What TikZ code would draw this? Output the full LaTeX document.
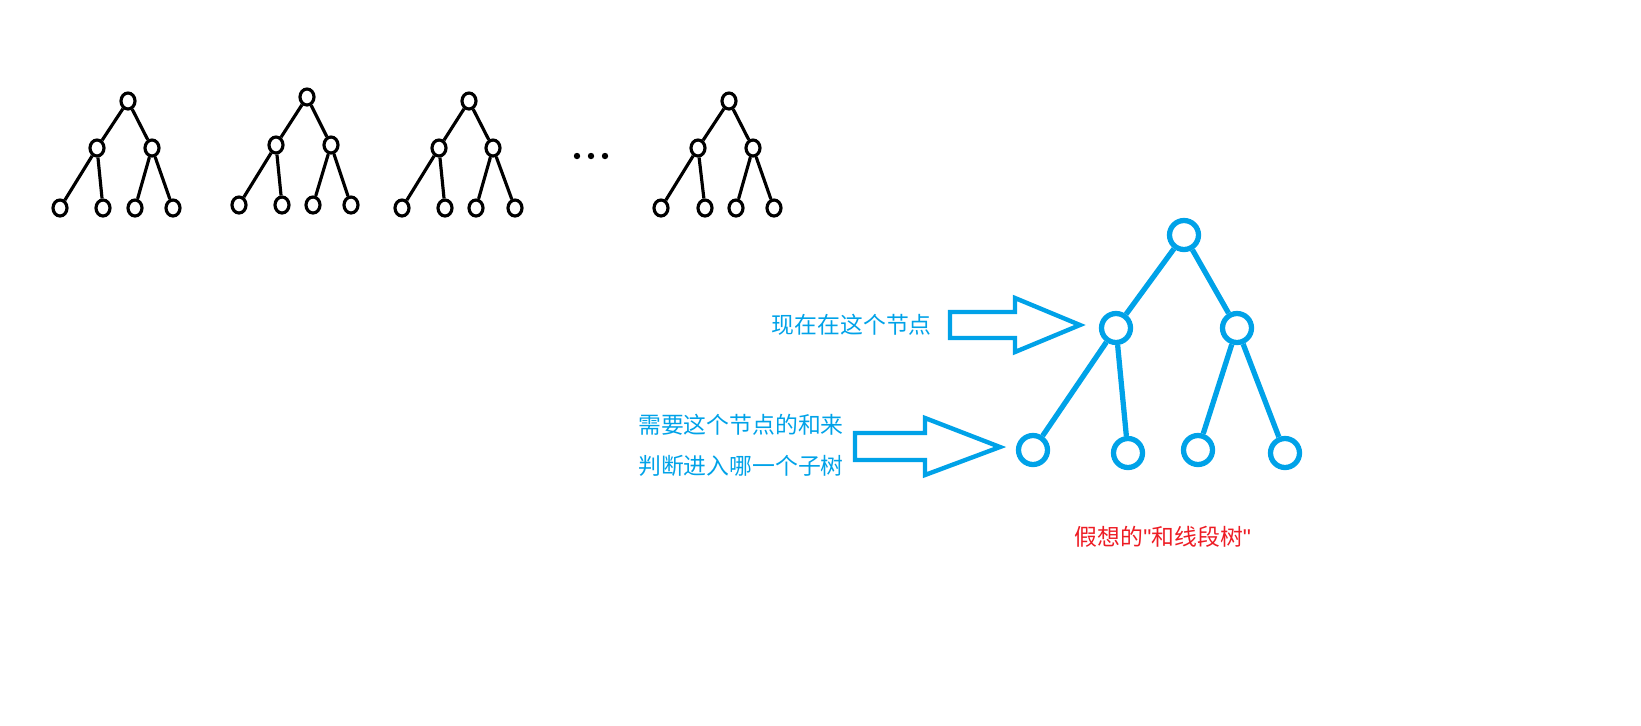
\documentclass[tikz,border=0pt]{standalone}
\usepackage{fontspec}
\setmainfont{Noto Sans CJK SC}
\newfontfamily\quotefont{Liberation Sans}
\definecolor{paintblue}{RGB}{0,162,232}
\definecolor{paintred}{RGB}{237,28,36}
\tikzset{
  leaf/.style={draw,ellipse,line width=1.8pt,minimum width=0.28cm,minimum height=0.32cm,inner sep=0pt},
  bleaf/.style={draw=paintblue,circle,line width=3pt,minimum size=0.58cm,inner sep=0pt},
  edge/.style={line width=1.8pt},
  bedge/.style={paintblue,line width=3pt},
  note/.style={paintblue,font=\fontsize{13}{17}\selectfont,align=left}
}
\usetikzlibrary{shapes.geometric}
\begin{document}
\begin{tikzpicture}[x=0.02cm,y=-0.02cm]
% small black trees
\foreach \t/\rx/\ry/\ax/\bx/\cy/\la/\lb/\lc/\ld/\ly in {
  1/128/101/97/152/148/60/103/135/173/208,
  2/307/97/276/331/145/239/282/313/351/205,
  3/469/101/439/493/148/402/445/476/515/208,
  4/729/101/698/753/148/661/705/736/774/208} {
  \node[leaf] (r\t) at (\rx,\ry) {};
  \node[leaf] (a\t) at (\ax,\cy) {};
  \node[leaf] (b\t) at (\bx,\cy) {};
  \node[leaf] (l\t-1) at (\la,\ly) {};
  \node[leaf] (l\t-2) at (\lb,\ly) {};
  \node[leaf] (l\t-3) at (\lc,\ly) {};
  \node[leaf] (l\t-4) at (\ld,\ly) {};
  \draw[edge] (r\t) -- (a\t) (r\t) -- (b\t)
    (a\t) -- (l\t-1) (a\t) -- (l\t-2) (b\t) -- (l\t-3) (b\t) -- (l\t-4);
}
\foreach \x in {577,591,605} \fill (\x,156) circle (3.2);
% blue tree
\node[bleaf] (root) at (1184,235) {};
\node[bleaf] (left) at (1116,328) {};
\node[bleaf] (right) at (1237,328) {};
\node[bleaf] (ll) at (1033,450) {};
\node[bleaf] (lr) at (1128,453) {};
\node[bleaf] (rl) at (1198,450) {};
\node[bleaf] (rr) at (1285,453) {};
\draw[bedge] (root) -- (left) (root) -- (right)
  (left) -- (ll) (left) -- (lr) (right) -- (rl) (right) -- (rr);
% block arrows
\draw[paintblue,line width=2.5pt,line join=miter]
  (950,312) -- (1015,312) -- (1015,298) -- (1080,325) -- (1015,352) -- (1015,338) -- (950,338) -- cycle;
\draw[paintblue,line width=2.5pt,line join=miter]
  (855,433) -- (925,433) -- (925,418) -- (1000,447) -- (925,475) -- (925,460) -- (855,460) -- cycle;
\node[note,anchor=east] (now) at (938,325) {现在在这个节点};
\node[note,anchor=east] (need) at (850,425) {需要这个节点的和来};
\node[note,anchor=east] (pick) at (850,466) {判断进入哪一个子树};
\node[paintred,font=\fontsize{13}{17}\selectfont] (name) at (1163,537) {假想的{\quotefont\char34}和线段树{\quotefont\char34}};
\pgfresetboundingbox
\useasboundingbox (0,0) rectangle (1641,725);
\end{tikzpicture}
\end{document}
